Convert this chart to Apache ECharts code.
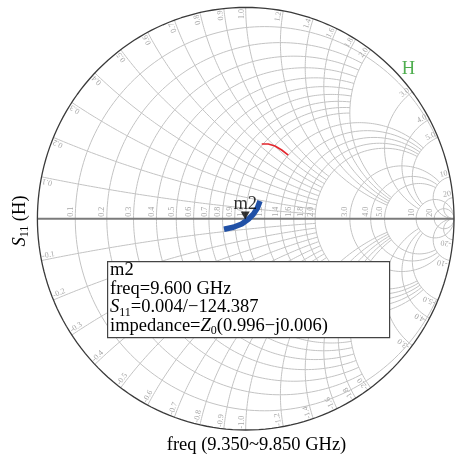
<!DOCTYPE html>
<html><head><meta charset="utf-8">
<style>html,body{margin:0;padding:0;background:#fff}#c{width:462px;height:459px}</style>
<script src="https://cdn.jsdelivr.net/npm/echarts@6.0.0/dist/echarts.min.js"></script>
</head><body><div id="c"></div>
<script>
// ---- chart data ----
const resistanceValues = [0.1,0.2,0.3,0.4,0.5,0.6,0.7,0.8,0.9,1.0,1.2,1.4,1.6,1.8,2.0,3,4,5,10,20];
const reactanceValues  = [0.1,0.2,0.3,0.4,0.5,0.6,0.7,0.8,0.9,1.0,1.2,1.4,1.6,1.8,2.0,3,4,5,10,20];
// grid families: values up to first number are clipped at the second number of the other family
const gridLimitValues = [1, 2, 5, 20];
const gridLimitBounds = [2, 5, 10, Infinity];
const resistanceExtraLimit = {0.1: 5};
const redTraceRe  = [0.0768, 0.1085, 0.1407, 0.1728, 0.2045];
const redTraceIm  = [0.3535, 0.3535, 0.3441, 0.3251, 0.3014];
const blueTraceRe = [-0.1042, -0.0595, -0.0192, 0.0125, 0.0365, 0.0557, 0.0687];
const blueTraceIm = [-0.0502, -0.0407, -0.0251, -0.0028, 0.0208, 0.0492, 0.0838];
const markerName = 'm2';
const markerFreq = '9.600 GHz';
const markerMag = 0.004;
const markerAngleDeg = -124.387;
const markerImpedance = '0.996\u2212j0.006';
const sweepStart = '9.350', sweepStop = '9.850';
const traceName = 'H';

// ---- helpers ----
function gamma(r, x){ const D=(r+1)*(r+1)+x*x; return [(r*r-1+x*x)/D, 2*x/D]; }
function limitFor(v){ for(let i=0;i<gridLimitValues.length;i++){ if(v<=gridLimitValues[i]+1e-9) return gridLimitBounds[i]; } return Infinity; }
function arc(cx, cy, R, A, B, H, full){
  const a0 = Math.atan2(A[1]-cy, A[0]-cx);
  let d;
  if(full){ d = 2*Math.PI; }
  else {
    const a1 = Math.atan2(B[1]-cy, B[0]-cx), ah = Math.atan2(H[1]-cy, H[0]-cx);
    let s = ah-a0; while(s>Math.PI) s-=2*Math.PI; while(s<-Math.PI) s+=2*Math.PI;
    d = a1-a0;
    if(s>0){ while(d<=0) d+=2*Math.PI; while(d>2*Math.PI) d-=2*Math.PI; }
    else { while(d>=0) d-=2*Math.PI; while(d<-2*Math.PI) d+=2*Math.PI; }
  }
  const n = 200, pts=[];
  for(let i=0;i<=n;i++){ const a=a0+d*i/n; pts.push([cx+R*Math.cos(a), cy+R*Math.sin(a)]); }
  return pts;
}
const GRID_COLOR = '#c3c3c3';
const series = [];
function addLine(pts, color, width, z){
  series.push({type:'line', data:pts, showSymbol:false, silent:true, animation:false, z:z||1,
    lineStyle:{color:color, width:width, cap:'butt'}, clip:false});
}
// resistance circles
resistanceValues.forEach(r=>{
  const X = resistanceExtraLimit[r] || limitFor(r), c=r/(1+r), R=1/(1+r);
  if(!isFinite(X)) addLine(arc(c,0,R,[1,0],null,null,true), GRID_COLOR, 1);
  else addLine(arc(c,0,R,gamma(r,-X),gamma(r,X),gamma(r,-X*0.9),false), GRID_COLOR, 1);
});
// reactance arcs
reactanceValues.forEach(xv=>{
  [xv,-xv].forEach(x=>{
    const Rm = limitFor(Math.abs(x)), cy=1/x, R=1/Math.abs(x);
    const A=gamma(0,x), B=isFinite(Rm)?gamma(Rm,x):[1,0], H=gamma(0.01,x);
    addLine(arc(1,cy,R,A,B,H,false), GRID_COLOR, 1);
  });
});
// horizontal axis and rim
addLine([[-1,0],[1,0]], '#7b7b7b', 2, 3);
addLine(arc(0,0,1,[1,0],null,null,true), '#3a3a3a', 1.3, 3);
// traces
addLine(redTraceRe.map((u,i)=>[u,redTraceIm[i]]), '#e3262d', 1.6, 5);
addLine(blueTraceRe.map((u,i)=>[u,blueTraceIm[i]]), '#2050a6', 5.5, 5);
// marker
const mRad = markerAngleDeg*Math.PI/180;
series.push({type:'scatter', data:[[markerMag*Math.cos(mRad), markerMag*Math.sin(mRad)]], z:6,
  symbol:'triangle', symbolRotate:180, symbolSize:[9,8], symbolOffset:[0,-4], silent:true, animation:false,
  itemStyle:{color:'#000'},
  label:{show:true, position:'top', distance:-2, formatter:markerName, color:'#000', fontSize:18.5, fontFamily:'Liberation Serif'}});

// grid labels
const labelInfo = [], labelPts = [];
function fmt(v){ const a=Math.abs(v); const s = a>=10 ? String(a) : a.toFixed(1); return (v<0?'-':'')+s; }
resistanceValues.forEach(r=>{ labelPts.push([(r-1)/(r+1),0]); labelInfo.push({kind:'r', text:fmt(r)}); });
reactanceValues.forEach(x=>{ [x,-x].forEach(xx=>{ labelPts.push(gamma(0,xx)); labelInfo.push({kind:'x', text:fmt(xx), upper:xx>0}); }); });
series.push({type:'custom', coordinateSystem:'cartesian2d', data:labelPts, z:4, silent:true, animation:false, clip:false,
  renderItem:function(params, api){
    const info = labelInfo[params.dataIndex];
    const p = api.coord([api.value(0), api.value(1)]);
    const o = api.coord([0,0]);
    const font = '8px "Liberation Serif"';
    if(info.kind==='r'){
      return {type:'text', x:p[0]-0.5, y:p[1]-2, rotation:Math.PI/2,
        style:{text:info.text, fill:'#a6a6a6', font:font, textAlign:'left', textVerticalAlign:'bottom', align:'left', verticalAlign:'bottom'}};
    }
    const dx=p[0]-o[0], dy=p[1]-o[1], L=Math.hypot(dx,dy);
    const th = Math.atan2(-dy, dx);
    const ax = p[0]-dx/L*1.5, ay = p[1]-dy/L*1.5;
    if(info.upper){
      return {type:'text', x:ax, y:ay, rotation:th,
        style:{text:info.text, fill:'#a6a6a6', font:font, textAlign:'right', textVerticalAlign:'bottom', align:'right', verticalAlign:'bottom'}};
    }
    return {type:'text', x:ax, y:ay, rotation:th+Math.PI,
      style:{text:info.text, fill:'#a6a6a6', font:font, textAlign:'left', textVerticalAlign:'bottom', align:'left', verticalAlign:'bottom'}};
  }
});

const SERIF = '"Liberation Serif", "DejaVu Serif", serif';
const richBase = {
  n:{fontSize:18.5, fontFamily:SERIF, color:'#000', lineHeight:22},
  i:{fontSize:18.5, fontFamily:SERIF, fontStyle:'italic', color:'#000', lineHeight:22},
  s:{fontSize:12, fontFamily:SERIF, color:'#000', lineHeight:22, verticalAlign:'bottom'}
};
const boxLeft=107, boxTop=261, boxW=282, boxH=76;
const option = {
  animation:false,
  grid:{left:37.4, top:7.4, width:416.6, height:422.6, containLabel:false},
  xAxis:{type:'value', min:-1, max:1, show:false},
  yAxis:{type:'value', min:-1, max:1, show:false},
  series:series,
  graphic:[
    {type:'rect', left:boxLeft, top:boxTop, z:100, shape:{width:boxW, height:boxH}, style:{fill:'#fff', stroke:'#444', lineWidth:1.2}},
    {type:'text', x:110, y:270, z:101, style:{text:'{n|'+markerName+'}', rich:richBase, textVerticalAlign:'middle', verticalAlign:'middle'}},
    {type:'text', x:110, y:289, z:101, style:{text:'{n|freq='+markerFreq+'}', rich:richBase, textVerticalAlign:'middle', verticalAlign:'middle'}},
    {type:'text', x:110, y:307.5, z:101, style:{text:'{i|S}{s|11}{n|='+markerMag.toFixed(3)+'/\u2212'+Math.abs(markerAngleDeg).toFixed(3)+'}', rich:richBase, textVerticalAlign:'middle', verticalAlign:'middle'}},
    {type:'text', x:110, y:326, z:101, style:{text:'{n|impedance=}{i|Z}{s|0}{n|('+markerImpedance+')}', rich:richBase, textVerticalAlign:'middle', verticalAlign:'middle'}},
    {type:'text', x:408.5, y:69, z:101, style:{text:traceName, fill:'#4fae4f', font:'18.5px '+SERIF, textAlign:'center', textVerticalAlign:'middle', align:'center', verticalAlign:'middle'}},
    {type:'text', x:256.5, y:445.5, z:101, style:{text:'freq ('+sweepStart+'~'+sweepStop+' GHz)', fill:'#000', font:'18.5px '+SERIF, textAlign:'center', textVerticalAlign:'middle', align:'center', verticalAlign:'middle'}},
    {type:'text', x:20, y:221, z:101, rotation:Math.PI/2, style:{text:'{i|S}{s|11}{n| (H)}', rich:richBase, textAlign:'center', textVerticalAlign:'middle', align:'center', verticalAlign:'middle'}}
  ]
};
const chart = echarts.init(document.getElementById('c'), null, {renderer:'canvas'});
chart.setOption(option);
</script>
</body></html>
